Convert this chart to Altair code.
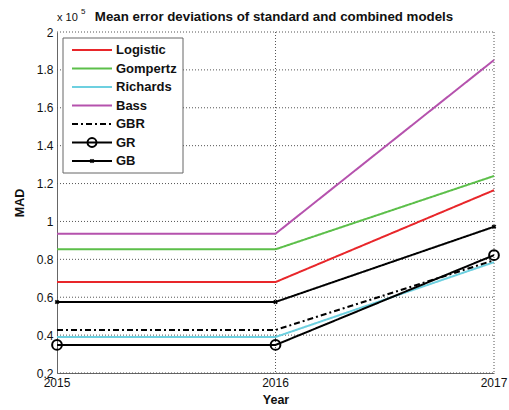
import altair as alt
import pandas as pd

# ---- data (MAD values; axis is x 10^5) ----
years = [2015, 2016, 2017]
logistic = [68000, 68000, 116500]
gompertz = [85300, 85300, 124000]
richards = [39000, 39000, 78500]
bass = [93500, 93500, 185200]
gbr = [42700, 42700, 79500]
gr = [34800, 34800, 82200]
gb = [57500, 57500, 97200]

models = ["Logistic", "Gompertz", "Richards", "Bass", "GBR", "GR", "GB"]
series = [logistic, gompertz, richards, bass, gbr, gr, gb]
colors = ["#e8262a", "#5cbf4a", "#6dd0e0", "#b552ad", "#000000", "#000000", "#000000"]
dashes = [[1, 0], [1, 0], [1, 0], [1, 0], [6, 3, 2, 3], [1, 0], [1, 0]]
y_ticks = [20000, 40000, 60000, 80000, 100000, 120000, 140000, 160000, 180000, 200000]
title_text = "Mean error deviations of standard and combined models"

rows = []
for i, (m, vals) in enumerate(zip(models, series)):
    for yr, v in zip(years, vals):
        rows.append({"model": m, "order": i, "year": yr, "mad": v})
df = pd.DataFrame(rows)

FONT = "Liberation Sans"
W, H = 437, 341

xscale = alt.Scale(domain=[2015, 2017], nice=False, zero=False)
yscale = alt.Scale(domain=[20000, 200000], nice=False, zero=False)
col_scale = alt.Scale(domain=models, range=colors)
dash_scale = alt.Scale(domain=models, range=dashes)

# ---- dotted grid drawn from tick tables through the scales ----
ygrid = alt.Chart(pd.DataFrame({"v": y_ticks})).mark_rule(
    color="#555", strokeDash=[1, 2], strokeWidth=1
).encode(y=alt.Y("v:Q", scale=yscale), x=alt.value(0), x2=alt.value(W))
xgrid = alt.Chart(pd.DataFrame({"year": years[1:]})).mark_rule(
    color="#555", strokeDash=[1, 2], strokeWidth=1
).encode(x=alt.X("year:Q", scale=xscale), y=alt.value(0), y2=alt.value(H))

lines = alt.Chart(df).mark_line(strokeWidth=2).encode(
    x=alt.X("year:Q", scale=xscale,
            axis=alt.Axis(labels=False, grid=False, ticks=False, title="Year",
                          titlePadding=20)),
    y=alt.Y("mad:Q", scale=yscale,
            axis=alt.Axis(values=y_ticks, tickCount=len(y_ticks), grid=False,
                          labelExpr="format(datum.value/100000, '.1~f')",
                          title="MAD", labelPadding=4, titlePadding=10,
                          labelOverlap=False)),
    color=alt.Color("model:N", scale=col_scale, legend=None),
    strokeDash=alt.StrokeDash("model:N", scale=dash_scale, legend=None),
    detail="order:O",
)

xlabels = alt.Chart(pd.DataFrame({"year": years})).mark_text(
    align="center", baseline="top", font=FONT, fontSize=12, color="#111"
).encode(x=alt.X("year:Q", scale=xscale), y=alt.value(H + 5),
         text=alt.Text("year:Q", format="d"))

gr_pts = alt.Chart(df).transform_filter(alt.datum.model == "GR").mark_point(
    shape="circle", size=95, filled=False, color="black", strokeWidth=2, opacity=1
).encode(x=alt.X("year:Q", scale=xscale), y=alt.Y("mad:Q", scale=yscale))

gb_pts = alt.Chart(df).transform_filter(alt.datum.model == "GB").mark_point(
    shape="cross", angle=45, size=22, filled=True, color="black", opacity=1
).encode(x=alt.X("year:Q", scale=xscale), y=alt.Y("mad:Q", scale=yscale))

# ---- legend (inside plot, upper left) ----
leg = pd.DataFrame({"name": models, "idx": list(range(len(models)))})
lbase = alt.Chart(leg).transform_calculate(py="18 + 18.5 * datum.idx")
ly = alt.Y("py:Q", scale=None, axis=None)

box = alt.Chart(pd.DataFrame({"k": [0]})).mark_rect(
    fill="white", stroke="#666", strokeWidth=1
).encode(x=alt.value(6), x2=alt.value(126), y=alt.value(6), y2=alt.value(141))

lrules = lbase.mark_rule(strokeWidth=2).encode(
    x=alt.value(15), x2=alt.value(55), y=ly,
    color=alt.Color("name:N", scale=col_scale, legend=None),
    strokeDash=alt.StrokeDash("name:N", scale=dash_scale, legend=None),
)
lgr = lbase.transform_filter(alt.datum.name == "GR").mark_point(
    shape="circle", size=80, filled=False, color="black", strokeWidth=2, opacity=1
).encode(x=alt.value(35), y=ly)
lgb = lbase.transform_filter(alt.datum.name == "GB").mark_point(
    shape="cross", angle=45, size=22, filled=True, color="black", opacity=1
).encode(x=alt.value(35), y=ly)
ltext = lbase.mark_text(align="left", baseline="middle", font=FONT, fontSize=13,
                        fontWeight="bold", color="#111").encode(
    x=alt.value(59), y=ly, text="name:N"
)

# ---- title and "x 10^5" multiplier as text ----
ttl = alt.Chart(pd.DataFrame({"t": [title_text]})).mark_text(
    align="center", baseline="middle", font=FONT, fontSize=13.3,
    fontWeight="bold", color="#111"
).encode(x=alt.value(217), y=alt.value(-15), text="t:N")
mult = alt.Chart(pd.DataFrame({"t": ["x 10"]})).mark_text(
    align="left", baseline="middle", font=FONT, fontSize=11, color="#111"
).encode(x=alt.value(0), y=alt.value(-14), text="t:N")
mult5 = alt.Chart(pd.DataFrame({"t": ["5"]})).mark_text(
    align="left", baseline="middle", font=FONT, fontSize=8, color="#111"
).encode(x=alt.value(24), y=alt.value(-20), text="t:N")

chart = alt.layer(ygrid, xgrid, lines, gr_pts, gb_pts, xlabels, box, lrules, lgr,
                  lgb, ltext, ttl, mult, mult5).properties(
    width=W, height=H,
    autosize=alt.AutoSizeParams(type="none"),
    padding={"left": 57, "top": 32, "right": 15, "bottom": 37},
    background="white",
).configure_view(stroke=None).configure_axis(
    ticks=False, domainColor="#666", domainWidth=1,
    labelFont=FONT, labelFontSize=12, labelColor="#111",
    titleFont=FONT, titleFontSize=12.5, titleFontWeight="bold", titleColor="#111"
)

chart.save("out.html", embed_options={"renderer": "svg", "actions": False})
